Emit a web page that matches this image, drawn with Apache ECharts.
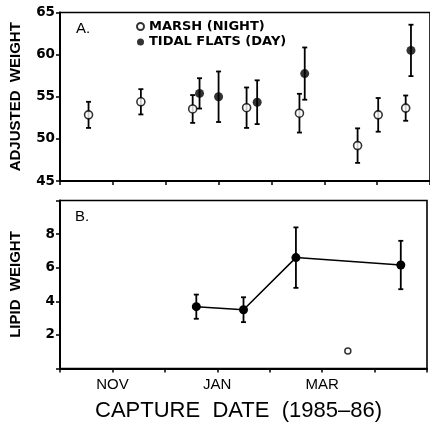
<!DOCTYPE html>
<html><head><meta charset="utf-8">
<script src="https://cdn.jsdelivr.net/npm/echarts@6/dist/echarts.min.js"></script>
<style>html,body{margin:0;padding:0;background:#fff}#c{width:430px;height:430px}</style>
</head><body><div id="c"></div>
<script>
// x values are months since 1 October 1985
const marshX = [0.54, 1.53, 2.51, 3.53, 4.53, 5.63, 6.02, 6.54];
const marshWeight = [52.85, 54.4, 53.55, 53.7, 53.05, 49.2, 52.85, 53.65];
const marshWeightErr = [1.55, 1.5, 1.65, 2.4, 2.3, 2.05, 2.0, 1.5];
const tidalX = [2.64, 3.0, 3.73, 4.63, 6.64];
const tidalWeight = [55.4, 55.0, 54.35, 57.75, 60.5];
const tidalWeightErr = [1.8, 3.0, 2.6, 3.1, 3.05];
const tidalLipidX = [2.6, 3.5, 4.5, 6.5];
const tidalLipid = [3.68, 3.5, 6.6, 6.16];
const tidalLipidErr = [0.72, 0.74, 1.8, 1.44];
const marshLipidX = [5.49];
const marshLipid = [1.04];
const tickValues = [1, 3, 5];
const tickNames = ['NOV', 'JAN', 'MAR'];

const FONT = '"Liberation Sans", Arial, sans-serif';
const WIDE = '"DejaVu Sans", sans-serif';
const pts = (xs, ys) => xs.map((x, i) => [x, ys[i]]);
const bars = (xs, ys, es) => xs.map((x, i) => [x, ys[i] - es[i], ys[i] + es[i]]);

function errRender(params, api) {
  const x = api.value(0), lo = api.value(1), hi = api.value(2);
  const p1 = api.coord([x, hi]), p2 = api.coord([x, lo]);
  const w = 2.5;
  const style = { stroke: '#000', lineWidth: 1.8, fill: null };
  return { type: 'group', children: [
    { type: 'line', shape: { x1: p1[0], y1: p1[1], x2: p2[0], y2: p2[1] }, style },
    { type: 'line', shape: { x1: p1[0] - w, y1: p1[1], x2: p1[0] + w, y2: p1[1] }, style },
    { type: 'line', shape: { x1: p2[0] - w, y1: p2[1], x2: p2[0] + w, y2: p2[1] }, style }
  ]};
}

const openStyle = { color: '#fff', borderColor: '#000', borderWidth: 1.6 };
const fillStyle = { color: '#000', borderColor: '#000', borderWidth: 0 };

const axisLine = { show: true, lineStyle: { color: '#000', width: 2 } };
const axisTick = { show: true, inside: false, length: 4, lineStyle: { color: '#000', width: 1.5 } };

const chart = echarts.init(document.getElementById('c'), null, { renderer: 'canvas' });
chart.setOption({
  animation: false,
  backgroundColor: '#fff',
  grid: [
    { left: 58, top: 12.5, width: 373, height: 168.5, show: true, borderColor: '#000', borderWidth: 1.6 },
    { left: 58, top: 200.5, width: 373, height: 168, show: true, borderColor: '#000', borderWidth: 1.6 }
  ],
  xAxis: [
    { gridIndex: 0, type: 'value', min: 0, max: 7, interval: 1, axisLine, axisTick,
      axisLabel: { show: false }, splitLine: { show: false } },
    { gridIndex: 1, type: 'value', min: 0, max: 7, interval: 1, axisLine, axisTick,
      axisLabel: { show: true, margin: 9, color: '#000', fontFamily: FONT, fontSize: 15,
        formatter: v => { const i = tickValues.indexOf(v); return i >= 0 ? tickNames[i] : ''; } },
      splitLine: { show: false },
      name: 'CAPTURE  DATE  (1985\u201386)', nameLocation: 'middle', nameGap: 31,
      nameTextStyle: { color: '#000', fontFamily: FONT, fontSize: 22, padding: [0, 10, 0, 0] } }
  ],
  yAxis: [
    { gridIndex: 0, type: 'value', min: 45, max: 65, interval: 5, axisLine, axisTick,
      axisLabel: { color: '#000', fontFamily: WIDE, fontSize: 13.5, fontWeight: 'bold', margin: 5 },
      splitLine: { show: false },
      name: 'ADJUSTED  WEIGHT', nameLocation: 'middle', nameGap: 37,
      nameTextStyle: { color: '#000', fontFamily: FONT, fontSize: 15, fontWeight: 'bold' } },
    { gridIndex: 1, type: 'value', min: 0, max: 10, interval: 2, axisLine, axisTick,
      axisLabel: { color: '#000', fontFamily: WIDE, fontSize: 13.5, fontWeight: 'bold', margin: 5,
        formatter: v => (v === 0 || v === 10) ? '' : String(v) },
      splitLine: { show: false },
      name: 'LIPID  WEIGHT', nameLocation: 'middle', nameGap: 37,
      nameTextStyle: { color: '#000', fontFamily: FONT, fontSize: 15, fontWeight: 'bold' } }
  ],
  legend: {
    orient: 'vertical', left: 136, top: 19, padding: 0, itemGap: 0.5,
    itemWidth: 7, itemHeight: 7, icon: 'circle', selectedMode: false,
    data: ['MARSH (NIGHT)', 'TIDAL FLATS (DAY)'],
    textStyle: { color: '#000', fontFamily: WIDE, fontSize: 13, fontWeight: 'bold', lineHeight: 15 }
  },
  graphic: [
    { type: 'text', left: 76, top: 21, style: { text: 'A.', font: '15px ' + FONT, fill: '#000' } },
    { type: 'text', left: 75, top: 209, style: { text: 'B.', font: '15px ' + FONT, fill: '#000' } }
  ],
  series: [
    { name: 'marshErr', type: 'custom', xAxisIndex: 0, yAxisIndex: 0, renderItem: errRender,
      encode: { x: 0, y: [1, 2] }, data: bars(marshX, marshWeight, marshWeightErr), z: 2 },
    { name: 'tidalErr', type: 'custom', xAxisIndex: 0, yAxisIndex: 0, renderItem: errRender,
      encode: { x: 0, y: [1, 2] }, data: bars(tidalX, tidalWeight, tidalWeightErr), z: 2 },
    { name: 'MARSH (NIGHT)', type: 'scatter', xAxisIndex: 0, yAxisIndex: 0, symbol: 'circle',
      symbolSize: 8, itemStyle: openStyle, data: pts(marshX, marshWeight), z: 3 },
    { name: 'TIDAL FLATS (DAY)', type: 'scatter', xAxisIndex: 0, yAxisIndex: 0, symbol: 'circle',
      symbolSize: 9, itemStyle: fillStyle, data: pts(tidalX, tidalWeight), z: 3 },
    { name: 'lipidErr', type: 'custom', xAxisIndex: 1, yAxisIndex: 1, renderItem: errRender,
      encode: { x: 0, y: [1, 2] }, data: bars(tidalLipidX, tidalLipid, tidalLipidErr), z: 2 },
    { name: 'TIDAL FLATS (DAY)', type: 'line', xAxisIndex: 1, yAxisIndex: 1, symbol: 'circle',
      symbolSize: 9, showSymbol: true, itemStyle: fillStyle,
      lineStyle: { color: '#000', width: 1.5 }, data: pts(tidalLipidX, tidalLipid), z: 3 },
    { name: 'MARSH (NIGHT)', type: 'scatter', xAxisIndex: 1, yAxisIndex: 1, symbol: 'circle',
      symbolSize: 6, itemStyle: { color: '#fff', borderColor: '#000', borderWidth: 1.5 },
      data: pts(marshLipidX, marshLipid), z: 3 }
  ]
});
</script></body></html>
